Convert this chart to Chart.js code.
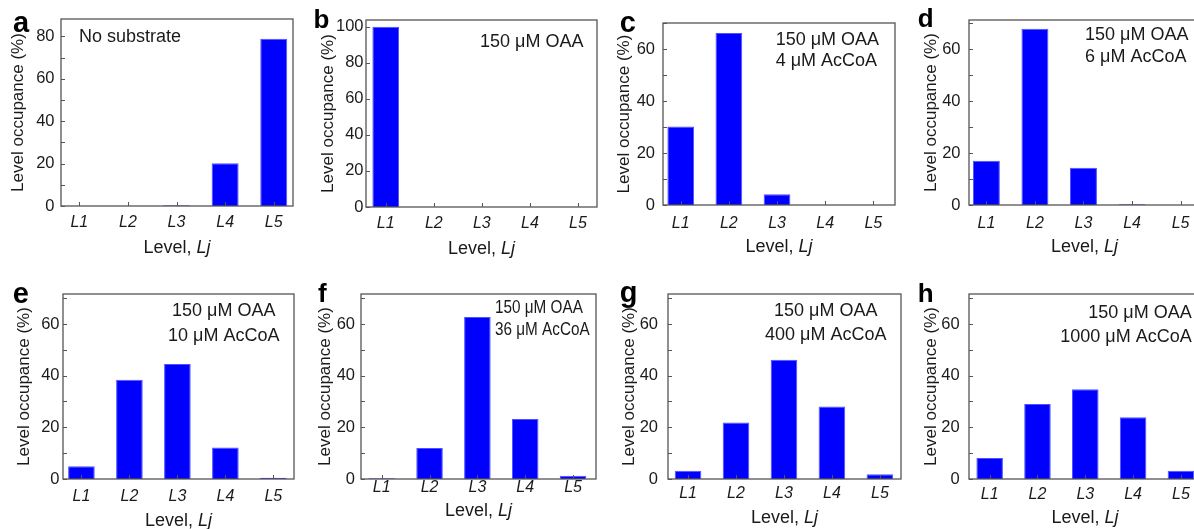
<!DOCTYPE html>
<html><head><meta charset="utf-8">
<script src="https://cdn.jsdelivr.net/npm/chart.js@4/dist/chart.umd.min.js"></script>
<style>
html,body{margin:0;padding:0;background:#fff;overflow:hidden;width:1194px;height:529px;position:relative}
canvas{position:absolute}
</style></head><body>
<script>
// ---------- data ----------
const levels = ['L1','L2','L3','L4','L5'];
const occA = [0, 0, 0.3, 20.2, 78.9];
const occB = [100, 0, 0, 0, 0];
const occC = [30.2, 66.2, 4.1, 0, 0];
const occD = [17.1, 67.9, 14.4, 0.3, 0];
const occE = [4.9, 38.4, 44.5, 12.2, 0.5];
const occF = [0.3, 12.0, 62.7, 23.2, 1.3];
const occG = [3.2, 21.9, 46.2, 28.1, 1.8];
const occH = [8.1, 29.0, 34.7, 23.9, 3.2];
const panelLetters = ['a','b','c','d','e','f','g','h'];
const conditions = [
  ['No substrate'],
  ['150 μM OAA'],
  ['150 μM OAA','4 μM AcCoA'],
  ['150 μM OAA','6 μM AcCoA'],
  ['150 μM OAA','10 μM AcCoA'],
  ['150 μM OAA','36 μM AcCoA'],
  ['150 μM OAA','400 μM AcCoA'],
  ['150 μM OAA','1000 μM AcCoA']
];
const yMajorTicks = [0,20,40,60,80,100];
const yMinorTicks = [10,30,50,70];
const yTitle = 'Level occupance (%)';
const xTitleMain = 'Level, ';
const xTitleSym = 'Lj';
const seriesList = [occA, occB, occC, occD, occE, occF, occG, occH];

// ---------- layout (page pixel geometry per panel) ----------
const layout = [
  {L:61,    R:293.3,  T:19.3, B:206,   ymax:88.2,  xmin:0.624, xmax:5.396, minor:true,  ytx:18,  ypad:6.5, xlab:17,   xtit:42,   letter:{x:13,  y:32,  size:29}, note:{align:'left',  x:79,     ys:[37]}},
  {L:365.5, R:596.7,  T:20,   B:206.7, ymax:103.7, xmin:0.59,  xmax:5.395, minor:false, ytx:328, ypad:2.5, xlab:16.7, xtit:41.7, letter:{x:313, y:28,  size:26}, note:{align:'right', x:583,    ys:[41.7]}},
  {L:663.3, R:895,    T:23.3, B:205,   ymax:70,    xmin:0.632, xmax:5.45,  minor:true,  ytx:625, ypad:8,   xlab:18.3, xtit:41.7, letter:{x:620, y:32,  size:29}, note:{align:'left',  x:776,    ys:[40,61.7]}},
  {L:969.3, R:1200.4, T:20,   B:205,   ymax:71.3,  xmin:0.642, xmax:5.4,   minor:true,  ytx:932, ypad:8.5, xlab:18.3, xtit:41.7, letter:{x:918, y:27,  size:26}, note:{align:'left',  x:1085.3, ys:[35,56.7]}},
  {L:63.3,  R:294,    T:294.3,B:479.3, ymax:71.6,  xmin:0.616, xmax:5.43,  minor:true,  ytx:25,  ypad:3.5, xlab:17.4, xtit:42.4, letter:{x:13,  y:303, size:29}, note:{align:'center',x:224,    ys:[311.7,336.7]}},
  {L:361,   R:596,    T:294.3,B:479.3, ymax:71.6,  xmin:0.567, xmax:5.48,  minor:true,  ytx:325, ypad:6,   xlab:9,    xtit:32.4, letter:{x:318, y:302, size:26}, note:{align:'left',  x:495,    ys:[308.3,330], sx:0.85}},
  {L:668.3, R:901,    T:294.3,B:479.3, ymax:71.6,  xmin:0.582, xmax:5.44,  minor:true,  ytx:630, ypad:10,  xlab:15,   xtit:39,   letter:{x:620, y:302, size:29}, note:{align:'center',x:826,    ys:[311.7,335]}},
  {L:969.3, R:1201.7, T:294.3,B:479.3, ymax:71.6,  xmin:0.568, xmax:5.42,  minor:true,  ytx:932, ypad:9.3, xlab:15.7, xtit:39,   letter:{x:918, y:302, size:26}, note:{align:'right', x:1192,   ys:[313.3,337.7]}}
];

const FONT = '"Liberation Sans", Arial, Helvetica, sans-serif';
const TEXT = '#1a1a1a';
const AXIS = '#555';
const AXW = 60, TOPPAD = 22, RIGHTPAD = 4, XAH = 56;

const decor = {
  id: 'decor',
  afterDraw(chart, args, o) {
    const {ctx, chartArea: ca, scales: {x, y}} = chart;
    const ox = o.x0, oy = o.y0;
    ctx.save();
    // frame
    ctx.strokeStyle = AXIS; ctx.lineWidth = 1.3;
    ctx.strokeRect(ca.left, ca.top, ca.right - ca.left, ca.bottom - ca.top);
    // inward ticks
    ctx.lineWidth = 1;
    ctx.beginPath();
    yMajorTicks.filter(v => v <= y.max).forEach(v => {
      const p = Math.round(y.getPixelForValue(v)) + 0.5;
      ctx.moveTo(ca.left, p); ctx.lineTo(ca.left + 4, p);
    });
    if (o.minor) yMinorTicks.filter(v => v <= y.max).forEach(v => {
      const p = Math.round(y.getPixelForValue(v)) + 0.5;
      ctx.moveTo(ca.left, p); ctx.lineTo(ca.left + 4, p);
    });
    levels.forEach((c, i) => {
      const p = Math.round(x.getPixelForValue(i + 1)) + 0.5;
      ctx.moveTo(p, ca.bottom); ctx.lineTo(p, ca.bottom - 4);
    });
    ctx.stroke();
    // panel letter
    ctx.fillStyle = '#000';
    ctx.textBaseline = 'alphabetic'; ctx.textAlign = 'left';
    ctx.font = `bold ${o.letter.size}px ${FONT}`;
    ctx.fillText(o.letterText, o.letter.x - ox, o.letter.y - oy);
    // condition notes
    ctx.fillStyle = TEXT;
    ctx.font = `18px ${FONT}`;
    ctx.textBaseline = 'middle';
    ctx.textAlign = o.note.align;
    o.noteLines.forEach((t, i) => {
      ctx.save();
      ctx.translate(o.note.x - ox, o.note.ys[i] - oy);
      if (o.note.sx) ctx.scale(o.note.sx, 1);
      ctx.fillText(t, 0, 0);
      ctx.restore();
    });
    // x title with italic symbol
    ctx.textAlign = 'left';
    const fN = `18px ${FONT}`, fI = `italic 18px ${FONT}`;
    ctx.font = fN; const w1 = ctx.measureText(xTitleMain).width;
    ctx.font = fI; const w2 = ctx.measureText(xTitleSym).width;
    const cx = (ca.left + ca.right) / 2 - (w1 + w2) / 2;
    const cy = ca.bottom + o.xtit;
    ctx.font = fN; ctx.fillText(xTitleMain, cx, cy);
    ctx.font = fI; ctx.fillText(xTitleSym, cx + w1, cy);
    ctx.restore();
  }
};

layout.forEach((g, k) => {
  const x0 = g.L - AXW, y0 = g.T - TOPPAD;
  const w = Math.round(g.R + RIGHTPAD - x0), h = Math.round(g.B + XAH - y0);
  const cv = document.createElement('canvas');
  cv.width = w; cv.height = h;
  cv.style.left = x0 + 'px'; cv.style.top = y0 + 'px';
  cv.style.width = w + 'px'; cv.style.height = h + 'px';
  document.body.appendChild(cv);
  const vals = seriesList[k];
  new Chart(cv, {
    type: 'bar',
    data: {
      datasets: [{
        data: levels.map((c, i) => ({x: i + 1, y: vals[i]})),
        backgroundColor: '#0000ff',
        borderColor: '#5050ff',
        borderWidth: 1,
        barPercentage: 0.555,
        categoryPercentage: 1
      }]
    },
    options: {
      responsive: false, animation: false, devicePixelRatio: 1, events: [],
      layout: {padding: {left: 0, top: TOPPAD, right: RIGHTPAD, bottom: 0}},
      plugins: {
        legend: {display: false}, tooltip: {enabled: false},
        decor: Object.assign({}, g, {x0, y0, letterText: panelLetters[k], noteLines: conditions[k]})
      },
      scales: {
        x: {
          type: 'linear', min: g.xmin, max: g.xmax, offset: false,
          grid: {display: false, drawTicks: false}, border: {display: false},
          afterBuildTicks: s => { s.ticks = levels.map((c, i) => ({value: i + 1})); },
          afterFit: s => { s.height = XAH; },
          ticks: {
            callback: v => levels[v - 1], maxRotation: 0, autoSkip: false,
            color: TEXT, padding: g.xlab - 9.6,
            font: {family: FONT, size: 16, style: 'italic'}
          }
        },
        y: {
          type: 'linear', min: 0, max: g.ymax,
          grid: {display: false, drawTicks: false}, border: {display: false},
          afterBuildTicks: s => { s.ticks = yMajorTicks.filter(v => v <= g.ymax).map(v => ({value: v})); },
          afterFit: s => { s.width = AXW; },
          ticks: {color: TEXT, padding: g.ypad, font: {family: FONT, size: 16.5}},
          title: {
            display: true, text: yTitle, color: TEXT,
            font: {family: FONT, size: 17},
            padding: {top: (g.ytx - x0) - 10.2, bottom: 0}
          }
        }
      }
    },
    plugins: [decor]
  });
});
</script>
</body></html>
